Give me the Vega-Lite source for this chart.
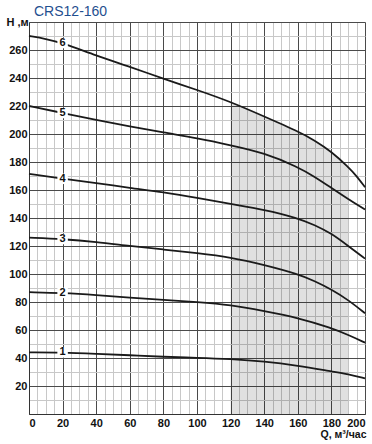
{
  "$schema": "https://vega.github.io/schema/vega-lite/v6.json",
  "width": 336,
  "height": 392,
  "autosize": {"type": "none"},
  "padding": {"left": 29, "top": 22, "right": 7, "bottom": 30},
  "background": "white",
  "title": {"text": "CRS12-160", "anchor": "start", "frame": "group", "dx": 5, "offset": -3, "fontSize": 14, "fontWeight": "normal", "color": "#1f4f8f", "font": "Liberation Sans"},
  "config": {"view": {"stroke": null}, "font": "Liberation Sans"},
  "data": {"values": [
    {"n": "6", "q": 0, "h": 270}, {"n": "6", "q": 10, "h": 268}, {"n": "6", "q": 20, "h": 265}, {"n": "6", "q": 40, "h": 256}, {"n": "6", "q": 60, "h": 248}, {"n": "6", "q": 80, "h": 239.5}, {"n": "6", "q": 100, "h": 231.5}, {"n": "6", "q": 120, "h": 223}, {"n": "6", "q": 140, "h": 212.5}, {"n": "6", "q": 160, "h": 202}, {"n": "6", "q": 170, "h": 195.5}, {"n": "6", "q": 180, "h": 187.5}, {"n": "6", "q": 190, "h": 176.5}, {"n": "6", "q": 195, "h": 170}, {"n": "6", "q": 200, "h": 162},
    {"n": "5", "q": 0, "h": 220}, {"n": "5", "q": 20, "h": 215}, {"n": "5", "q": 40, "h": 210}, {"n": "5", "q": 60, "h": 205.5}, {"n": "5", "q": 80, "h": 201}, {"n": "5", "q": 100, "h": 197}, {"n": "5", "q": 120, "h": 192}, {"n": "5", "q": 140, "h": 186.5}, {"n": "5", "q": 160, "h": 176.5}, {"n": "5", "q": 170, "h": 169.5}, {"n": "5", "q": 180, "h": 161.5}, {"n": "5", "q": 190, "h": 153.5}, {"n": "5", "q": 200, "h": 146},
    {"n": "4", "q": 0, "h": 171.5}, {"n": "4", "q": 20, "h": 168}, {"n": "4", "q": 40, "h": 165}, {"n": "4", "q": 60, "h": 161.5}, {"n": "4", "q": 80, "h": 158.5}, {"n": "4", "q": 100, "h": 154.5}, {"n": "4", "q": 120, "h": 150}, {"n": "4", "q": 140, "h": 146}, {"n": "4", "q": 160, "h": 140}, {"n": "4", "q": 170, "h": 135}, {"n": "4", "q": 180, "h": 129}, {"n": "4", "q": 190, "h": 120}, {"n": "4", "q": 200, "h": 111},
    {"n": "3", "q": 0, "h": 126}, {"n": "3", "q": 20, "h": 125}, {"n": "3", "q": 40, "h": 123}, {"n": "3", "q": 60, "h": 120}, {"n": "3", "q": 80, "h": 117.5}, {"n": "3", "q": 100, "h": 115}, {"n": "3", "q": 120, "h": 112}, {"n": "3", "q": 140, "h": 106.5}, {"n": "3", "q": 160, "h": 100}, {"n": "3", "q": 170, "h": 95}, {"n": "3", "q": 180, "h": 89}, {"n": "3", "q": 190, "h": 81.5}, {"n": "3", "q": 200, "h": 72},
    {"n": "2", "q": 0, "h": 87}, {"n": "2", "q": 20, "h": 86.5}, {"n": "2", "q": 40, "h": 85}, {"n": "2", "q": 60, "h": 83}, {"n": "2", "q": 80, "h": 81.5}, {"n": "2", "q": 100, "h": 80}, {"n": "2", "q": 120, "h": 78}, {"n": "2", "q": 140, "h": 73.5}, {"n": "2", "q": 160, "h": 68.8}, {"n": "2", "q": 180, "h": 61.5}, {"n": "2", "q": 190, "h": 56.5}, {"n": "2", "q": 200, "h": 51},
    {"n": "1", "q": 0, "h": 44}, {"n": "1", "q": 20, "h": 44}, {"n": "1", "q": 40, "h": 43}, {"n": "1", "q": 60, "h": 42}, {"n": "1", "q": 80, "h": 40.8}, {"n": "1", "q": 100, "h": 40.2}, {"n": "1", "q": 120, "h": 39.3}, {"n": "1", "q": 140, "h": 37.6}, {"n": "1", "q": 160, "h": 34.5}, {"n": "1", "q": 180, "h": 30.4}, {"n": "1", "q": 190, "h": 28.5}, {"n": "1", "q": 200, "h": 25.5}
  ]},
  "layer": [
    {
      "transform": [{"filter": "datum.n == '6' && datum.q >= 120 && datum.q <= 190"}],
      "mark": {"type": "area", "interpolate": "basis", "color": "#000000", "opacity": 0.12},
      "encoding": {
        "x": {"field": "q", "type": "quantitative", "scale": {"domain": [0, 200], "nice": false},
          "axis": {"orient": "top", "values": [5, 10, 15, 25, 30, 35, 45, 50, 55, 65, 70, 75, 85, 90, 95, 105, 110, 115, 125, 130, 135, 145, 150, 155, 165, 170, 175, 185, 190, 195], "grid": true, "gridColor": "#c8c8c8", "gridWidth": 1, "labels": false, "ticks": false, "domain": false, "title": null}},
        "y": {"field": "h", "type": "quantitative", "scale": {"domain": [0, 280], "nice": false, "zero": true},
          "axis": {"orient": "right", "values": [10, 30, 50, 70, 90, 110, 130, 150, 170, 190, 210, 230, 250, 270], "grid": true, "gridColor": "#c8c8c8", "gridWidth": 1, "labels": false, "ticks": false, "domain": false, "title": null}}
      }
    },
    {
      "mark": {"type": "line", "interpolate": "basis", "color": "#1a1a1a", "strokeWidth": 1.8},
      "encoding": {
        "x": {"field": "q", "type": "quantitative",
          "axis": {"values": [0, 20, 40, 60, 80, 100, 120, 140, 160, 180, 200], "grid": true, "gridColor": "#4a4a4a", "gridWidth": 1, "ticks": false, "domain": true, "domainColor": "#333333", "labelFontWeight": "bold", "labelFontSize": 11, "labelColor": "#111111", "labelPadding": 3, "title": "Q, м³/час", "titleFontWeight": "bold", "titleFontSize": 10.5, "titleColor": "#111111", "titleAnchor": "end", "titleAlign": "right", "titleX": 337, "titleY": 20, "titleBaseline": "middle"}},
        "y": {"field": "h", "type": "quantitative",
          "axis": {"values": [0, 20, 40, 60, 80, 100, 120, 140, 160, 180, 200, 220, 240, 260, 280], "labelExpr": "datum.value == 0 || datum.value == 280 ? '' : datum.label", "grid": true, "gridColor": "#4a4a4a", "gridWidth": 1, "ticks": false, "domain": true, "domainColor": "#333333", "labelFontWeight": "bold", "labelFontSize": 11, "labelColor": "#111111", "labelPadding": 2, "title": "H ,м", "titleAngle": 0, "titleAlign": "left", "titleBaseline": "middle", "titleX": -23, "titleY": 0, "titleFontWeight": "bold", "titleFontSize": 11, "titleColor": "#111111"}},
        "detail": {"field": "n"}
      }
    },
    {
      "transform": [{"filter": "datum.q == 20"}],
      "mark": {"type": "point", "shape": "square", "filled": true, "color": "white", "opacity": 1, "size": 110},
      "encoding": {
        "x": {"field": "q", "type": "quantitative", "axis": null},
        "y": {"field": "h", "type": "quantitative", "axis": null}
      }
    },
    {
      "transform": [{"filter": "datum.q == 20"}],
      "mark": {"type": "text", "fontWeight": "bold", "fontSize": 11, "color": "#111111"},
      "encoding": {
        "x": {"field": "q", "type": "quantitative", "axis": null},
        "y": {"field": "h", "type": "quantitative", "axis": null},
        "text": {"field": "n"}
      }
    }
  ],
  "resolve": {"axis": {"x": "independent", "y": "independent"}}
}
